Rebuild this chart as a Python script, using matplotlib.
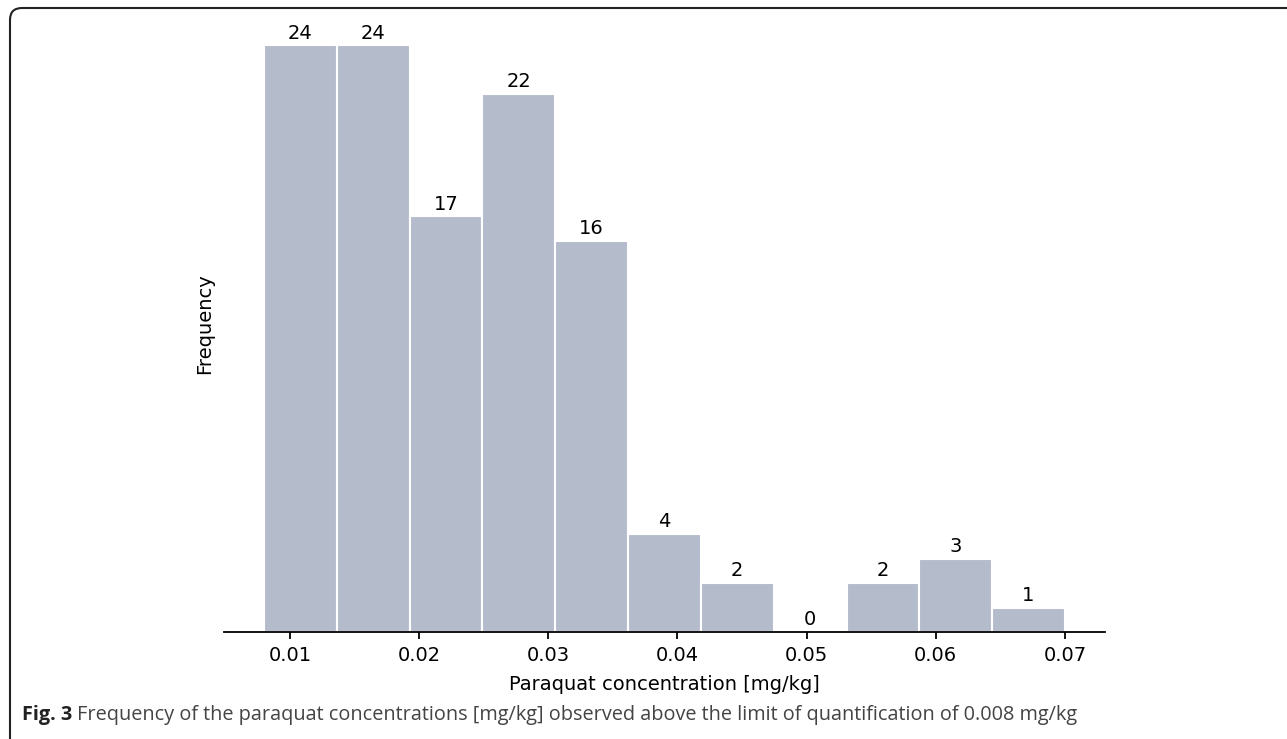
import numpy as np
import matplotlib.pyplot as plt
from matplotlib.patches import FancyBboxPatch

plt.rcParams["font.family"] = ["DejaVu Sans"]

# histogram of paraquat concentrations above LOQ
bin_start = 0.008
bin_stop = 0.070
counts = [24, 24, 17, 22, 16, 4, 2, 0, 2, 3, 1]
xticks = [0.01, 0.02, 0.03, 0.04, 0.05, 0.06, 0.07]
xtick_labels = ["0.01", "0.02", "0.03", "0.04", "0.05", "0.06", "0.07"]

edges = np.linspace(bin_start, bin_stop, len(counts) + 1)
widths = np.diff(edges)

fig = plt.figure(figsize=(12.87, 7.39), dpi=100)
ax = fig.add_axes([224 / 1287, 1 - 632 / 739, (1105 - 224) / 1287, (632 - 16) / 739])

bars = ax.bar(edges[:-1], counts, width=widths, align="edge",
              color="#b4bccc", edgecolor="white", linewidth=1.5)
for b, c in zip(bars, counts):
    ax.annotate(str(c), (b.get_x() + b.get_width() / 2, c),
                xytext=(0, 2), textcoords="offset points",
                ha="center", va="bottom", fontsize=14)

ax.set_xlim(bin_start - 0.05 * (bin_stop - bin_start),
            bin_stop + 0.05 * (bin_stop - bin_start))
ax.set_ylim(0, max(counts) * 1.05)
ax.set_xticks(xticks, xtick_labels, fontsize=14)
ax.set_yticks([])
for side in ("left", "right", "top"):
    ax.spines[side].set_visible(False)
ax.spines["bottom"].set_linewidth(1.3)
ax.tick_params(axis="x", length=5, width=1.3, pad=5)
ax.set_xlabel("Paraquat concentration [mg/kg]", fontsize=14, labelpad=7)
ax.set_ylabel("Frequency", fontsize=14, labelpad=7)

# outer frame of the figure panel
frame = FancyBboxPatch((0.10, -0.5), 14, 7.31 + 0.5,
                       boxstyle="round,pad=0,rounding_size=0.12",
                       transform=fig.dpi_scale_trans, fill=False,
                       edgecolor="#222222", linewidth=1.5)
fig.patches.append(frame)

t1 = fig.text(22 / 1287, 1 - 715 / 739, "Fig. 3", fontsize=14.3,
              fontweight="bold", family="Open Sans", color="#222222", va="center")
fig.canvas.draw()
bb = t1.get_window_extent()
fig.text((bb.x1 + 5) / 1287, 1 - 715 / 739,
         "Frequency of the paraquat concentrations [mg/kg] observed above the "
         "limit of quantification of 0.008 mg/kg",
         fontsize=14.3, family="Open Sans", color="#444444", va="center")

fig.savefig("out.png", dpi=100)
